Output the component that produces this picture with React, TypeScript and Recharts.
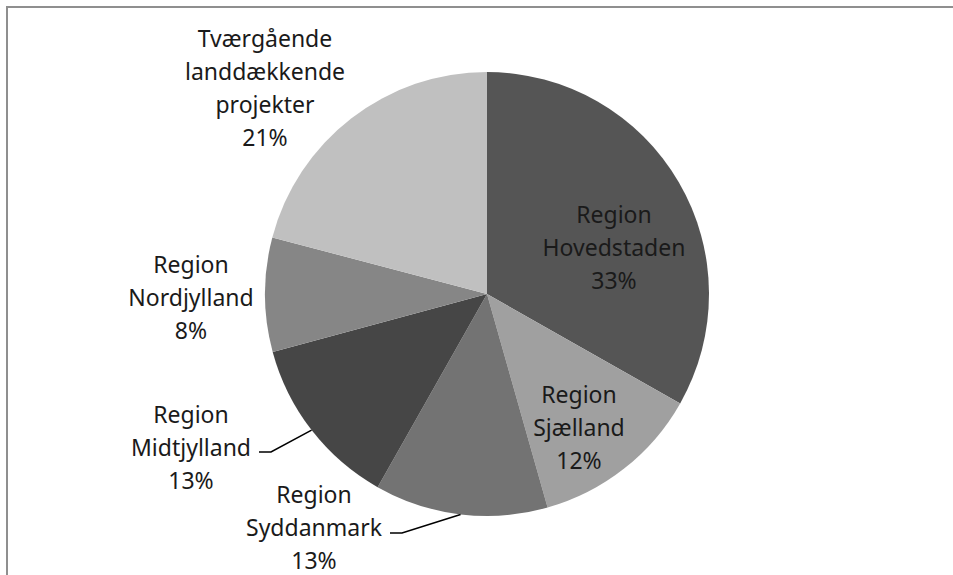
import { PieChart, Pie, Cell } from 'recharts';

const regions = [
  'Region Hovedstaden',
  'Region Sjælland',
  'Region Syddanmark',
  'Region Midtjylland',
  'Region Nordjylland',
  'Tværgående landdækkende projekter',
];
const shares = [33.2, 12.4, 12.6, 12.6, 8.3, 20.9];
const sliceColors = ['#555555', '#a0a0a0', '#737373', '#464646', '#868686', '#c0c0c0'];

const data = regions.map((name, i) => ({ name, value: shares[i] }));

// where each label block sits, relative to the pie centre (Excel placed them by hand)
const labelSpots = [
  { dx: 127, dy: -47 },
  { dx: 92, dy: 133 },
  { dx: -173, dy: 233, knee: { dx: -85, dy: 239 } },
  { dx: -296, dy: 153, knee: { dx: -216, dy: 158 } },
  { dx: -296, dy: 3 },
  { dx: -222, dy: -207 },
];

const LINE_H = 33;
const RADIAN = Math.PI / 180;

function renderLabel(props: any) {
  const { cx, cy, midAngle, outerRadius, index, value } = props;
  const spot = labelSpots[index];
  const lines = [...regions[index].split(' '), `${Math.round(value)}%`];
  const x = cx + spot.dx;
  const mid = (lines.length - 1) / 2;
  const y0 = cy + spot.dy - mid * LINE_H;
  let leader = null;
  if (spot.knee) {
    const ex = cx + outerRadius * Math.cos(-midAngle * RADIAN);
    const ey = cy + outerRadius * Math.sin(-midAngle * RADIAN);
    const kx = cx + spot.knee.dx;
    const ky = cy + spot.knee.dy;
    leader = (
      <polyline
        points={`${ex},${ey} ${kx},${ky} ${kx - 12},${ky}`}
        fill="none"
        stroke="#000"
        strokeWidth={1.5}
      />
    );
  }
  return (
    <g key={`lbl-${index}`}>
      {leader}
      <text
        x={x}
        y={y0}
        textAnchor="middle"
        dominantBaseline="central"
        fontFamily="'Noto Sans', sans-serif"
        fontSize={23}
        fill="#1a1a1a"
      >
        {lines.map((t, i) => (
          <tspan key={i} x={x} dy={i === 0 ? 0 : LINE_H}>
            {t}
          </tspan>
        ))}
      </text>
    </g>
  );
}

export default function App() {
  return (
    <div
      style={{
        position: 'absolute',
        left: 6,
        top: 6,
        width: 947,
        height: 569,
        borderTop: '2px solid #8f8f8f',
        borderLeft: '2px solid #8f8f8f',
        boxSizing: 'border-box',
        overflow: 'hidden',
      }}
    >
      <PieChart width={945} height={567} margin={{ top: 0, right: 0, bottom: 0, left: 0 }}>
        <Pie
          data={data}
          dataKey="value"
          nameKey="name"
          cx={479}
          cy={286}
          outerRadius={222}
          startAngle={90}
          endAngle={-270}
          stroke="none"
          label={renderLabel}
          labelLine={false}
          isAnimationActive={false}
        >
          {data.map((d, i) => (
            <Cell key={d.name} fill={sliceColors[i]} />
          ))}
        </Pie>
      </PieChart>
    </div>
  );
}
